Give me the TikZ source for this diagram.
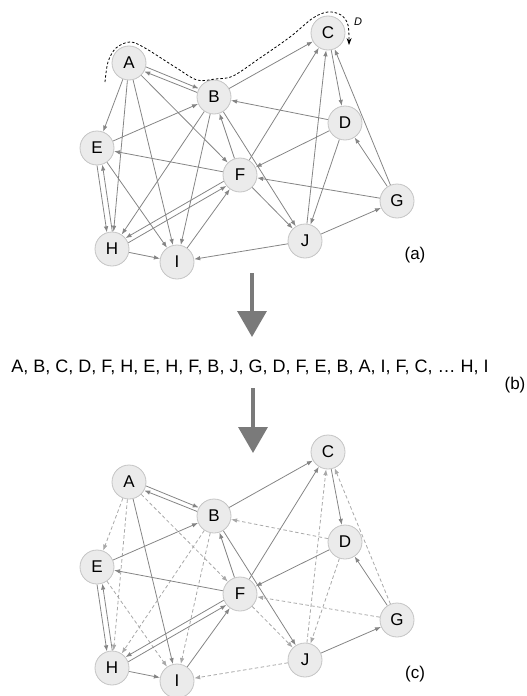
\documentclass[tikz,border=0pt]{standalone}
\usepackage{fontspec}
\setmainfont{Liberation Sans}
\usetikzlibrary{arrows.meta,backgrounds}
\definecolor{nodefill}{HTML}{EBEBEB}
\definecolor{nodeline}{HTML}{C4C4C4}
\definecolor{edgecol}{HTML}{858585}
\definecolor{dashcol}{HTML}{A8A8A8}
\definecolor{bigarrow}{HTML}{7A7A7A}
\tikzset{
 vtx/.style={circle, minimum size=34pt, inner sep=0pt, fill=nodefill, draw=nodeline, line width=0.8pt, font=\fontsize{17}{20}\selectfont},
 sol/.style={draw=edgecol, line width=0.8pt, -{Latex[length=6pt,width=4.5pt]}},
 dsh/.style={draw=dashcol, line width=0.8pt, dash pattern=on 3.5pt off 2.5pt, -{Latex[length=6pt,width=4.5pt]}},
 lbl/.style={font=\fontsize{17}{20}\selectfont},
 bigarr/.style={draw=bigarrow, line width=3.5pt, -{Triangle[length=26pt,width=29pt]}},
}
\newcommand{\graphnodes}{%
 \node[vtx] (A) at (129,63) {A};
 \node[vtx] (B) at (214,97) {B};
 \node[vtx] (C) at (328,33) {C};
 \node[vtx] (D) at (345,123) {D};
 \node[vtx] (E) at (97,148) {E};
 \node[vtx] (F) at (240,175) {F};
 \node[vtx] (G) at (397,201) {G};
 \node[vtx] (H) at (112,249) {H};
 \node[vtx] (I) at (177,262) {I};
 \node[vtx] (J) at (305,241) {J};
}
\newcommand{\graphedges}{%
 \draw[var] (A) -- (E);
 \draw[var] (A) -- (H);
 \draw[sol] (A) -- (I);
 \draw[var] (A) -- (F);
 \draw[sol] (A.-13) -- (B.151);
 \draw[sol] (B.165) -- (A.-29);
 \draw[sol] (E) -- (B);
 \draw[var] (D) -- (B);
 \draw[sol] (B) -- (C);
 \draw[var] (B) -- (H);
 \draw[var] (B) -- (I);
 \draw[sol] (F) -- (B);
 \draw[sol] (B) -- (J);
 \draw[sol] (F) -- (C);
 \draw[var] (J) -- (C);
 \draw[sol] (C) -- (D);
 \draw[var] (G) -- (C);
 \draw[sol] (D) -- (F);
 \draw[var] (D) -- (J);
 \draw[sol] (G) -- (D);
 \draw[sol] (F) -- (E);
 \draw[sol] (E.-90.5) -- (H.107.5);
 \draw[sol] (H.89.5) -- (E.-72.5);
 \draw[var] (E) -- (I);
 \draw[var] (G) -- (F);
 \draw[var] (F) -- (J);
 \draw[sol] (F.201) -- (H.39);
 \draw[sol] (H.21) -- (F.219);
 \draw[sol] (I) -- (F);
 \draw[sol] (H) -- (I);
 \draw[var] (J) -- (I);
 \draw[sol] (J) -- (G);
}
\begin{document}
\begin{tikzpicture}[x=1pt,y=-1pt]
\useasboundingbox (0,0) rectangle (527,696);
% graph (a)
\begin{scope}[var/.style={sol}]
 \graphnodes
 \begin{pgfonlayer}{background}
 \graphedges
 \end{pgfonlayer}
\end{scope}
\draw[black, line width=0.8pt, dash pattern=on 2.5pt off 2pt, -{Stealth[length=7pt,width=5pt]}]
 plot[smooth, tension=0.55] coordinates {(105,82) (108,62) (116,48) (130,42) (145,48) (175,67) (197,80) (215,79) (233,76) (260,58) (290,37) (313,18) (328,12) (341,15) (348,25) (349,45)};
\node[font=\fontsize{11}{13}\selectfont\itshape] (dl) at (358,22) {D};
\node[lbl] (la) at (415,255) {(a)};
% first arrow
\coordinate (a1s) at (252,273);
\coordinate (a1e) at (252,337);
\draw[bigarr] (a1s) -- (a1e);
\node[font=\fontsize{18}{22}\selectfont, anchor=base] (seq) at (250,372) {A, B, C, D, F, H, E, H, F, B, J, G, D, F, E, B, A, I, F, C, … H, I};
\node[lbl] (lb) at (515,385) {(b)};
% second arrow
\coordinate (a2s) at (253,388);
\coordinate (a2e) at (253,453);
\draw[bigarr] (a2s) -- (a2e);
% graph (c)
\begin{scope}[yshift=-419pt, name prefix=c-, var/.style={dsh}]
 \graphnodes
 \begin{pgfonlayer}{background}
 \graphedges
 \end{pgfonlayer}
\end{scope}
\node[lbl] (lc) at (415,674) {(c)};
\end{tikzpicture}
\end{document}
